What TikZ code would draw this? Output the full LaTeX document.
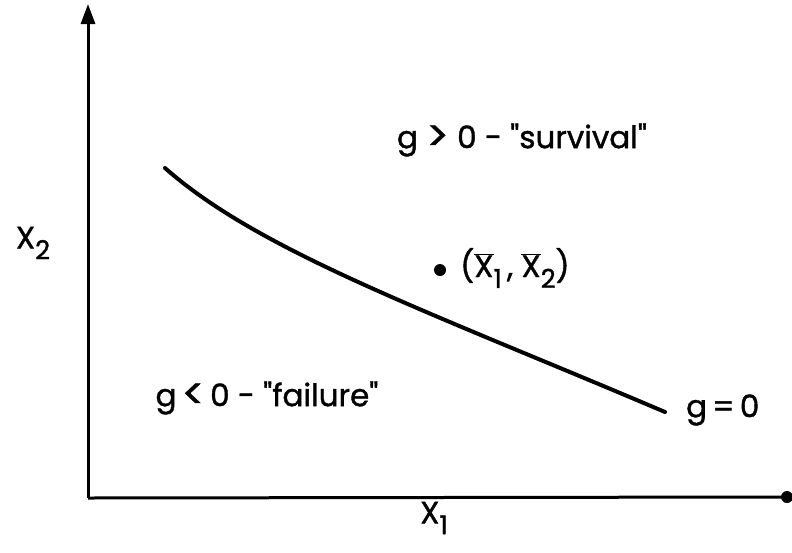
\documentclass[tikz,border=0pt]{standalone}
\usepackage{fontspec}
\setmainfont[FakeBold=1.2]{Poppins}
\usetikzlibrary{arrows.meta}
\tikzset{
  lbl/.style={font=\fontsize{31}{36}\selectfont, inner sep=0pt},
  axis/.style={line width=3pt},
}
\newcommand{\sub}[1]{\raisebox{-0.35em}{\fontsize{26}{28}\selectfont #1}}
\newcommand{\bigsym}[1]{\raisebox{-0.08em}{\fontsize{42}{42}\selectfont #1}}
\newcommand{\barX}{$\overline{\mbox{X}}$}
\begin{document}
\begin{tikzpicture}[x=1pt,y=-1pt]
\useasboundingbox (0,0) rectangle (792,552);
\coordinate (o) at (88,498);
\coordinate (top) at (88,4);
\coordinate (right) at (787,497);
\draw[axis,-{Triangle[length=20pt,width=14pt]}] (o) -- (top);
\draw[axis] (o) -- (right);
\fill (right) circle (6pt);
\coordinate (c0) at (165,168);
\coordinate (c1) at (665,412);
\draw[line width=4pt, line cap=round] (c0) .. controls (260,252) and (430,312) .. (c1);
\fill (440,270) circle (6pt);
\node[lbl, anchor=west] (pt) at (460,268) {(\barX\sub{1}\,, \barX\sub{2})};
\node[lbl] (surv) at (522,140) {g \bigsym{>} 0 - \textquotedbl survival\textquotedbl};
\node[lbl] (fail) at (267,398) {g\,\bigsym{<}\,0 - \textquotedbl failure\textquotedbl};
\node[lbl, anchor=west] (g0) at (686,410) {g\,=\,0};
\node[lbl] (x2) at (33,243) {X\sub{2}};
\node[lbl] (x1) at (434,518) {X\sub{1}};
\end{tikzpicture}
\end{document}
